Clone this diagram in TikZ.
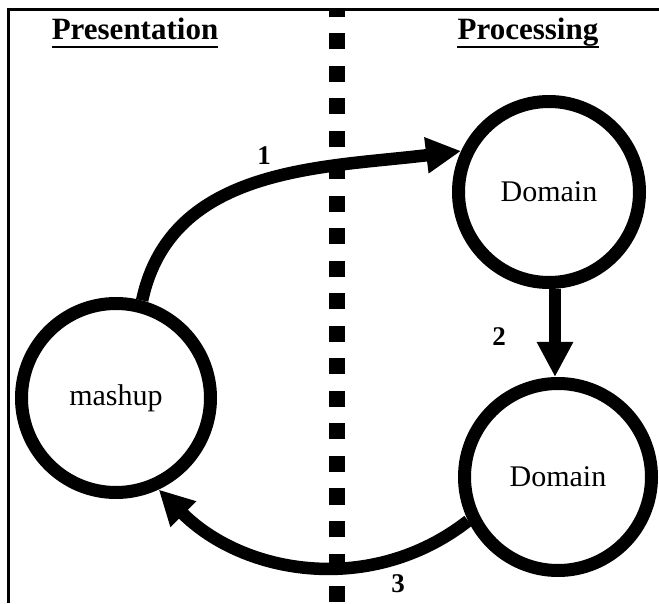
\documentclass[tikz,border=0pt]{standalone}
\usepackage{fontspec}
\setmainfont{Liberation Serif}
\usetikzlibrary{arrows.meta}
\begin{document}
\begin{tikzpicture}[x=1pt,y=1pt,
  ring/.style={circle, draw, line width=13pt, minimum size=#1, inner sep=0pt,
    font=\fontsize{30}{30}\selectfont},
  flow/.style={line width=12.5pt, -{Triangle[length=35pt,width=34pt]}},
  heading/.style={font=\bfseries\fontsize{31}{31}\selectfont, anchor=base, inner sep=0pt},
  steplabel/.style={font=\bfseries\fontsize{27}{27}\selectfont, inner sep=0pt},
  underline/.style={line width=2.5pt},
  divider/.style={line width=16pt, dash pattern=on 16pt off 16.5pt, dash phase=9pt},
  frame/.style={line width=3pt}
]
\useasboundingbox (0,0) rectangle (659,603);

% open frame: left and top edges
\draw[frame] (8,0) -- (8,593) -- (659,593);

% dotted separator between the two tiers
\coordinate (divtop) at (337,593);
\coordinate (divbot) at (337,0);
\draw[divider] (divtop) -- (divbot);

% tier headings
\node[heading] (pres) at (135,563) {Presentation};
\node[heading] (proc) at (528,563) {Processing};
\draw[underline] ([yshift=-7pt]pres.base west) -- ([yshift=-7pt]pres.base east);
\draw[underline] ([yshift=-7pt]proc.base west) -- ([yshift=-7pt]proc.base east);

% components
\node[ring=189pt] (mashup) at (116,205) {mashup};
\node[ring=181pt] (dom1) at (549,411) {Domain};
\node[ring=187pt] (dom2) at (558,126) {Domain};

% request flow
\draw[flow] (mashup.75) to[out=78,in=187] (dom1.155);
\draw[flow] ([xshift=6pt]dom1.south) -- ([xshift=-3pt]dom2.north);
\draw[flow] (dom2.206) to[out=218,in=-45] (mashup.-65);

% step numbers
\node[steplabel] (n1) at (264,447) {1};
\node[steplabel] (n2) at (499,266) {2};
\node[steplabel] (n3) at (398,19) {3};
\end{tikzpicture}
\end{document}
